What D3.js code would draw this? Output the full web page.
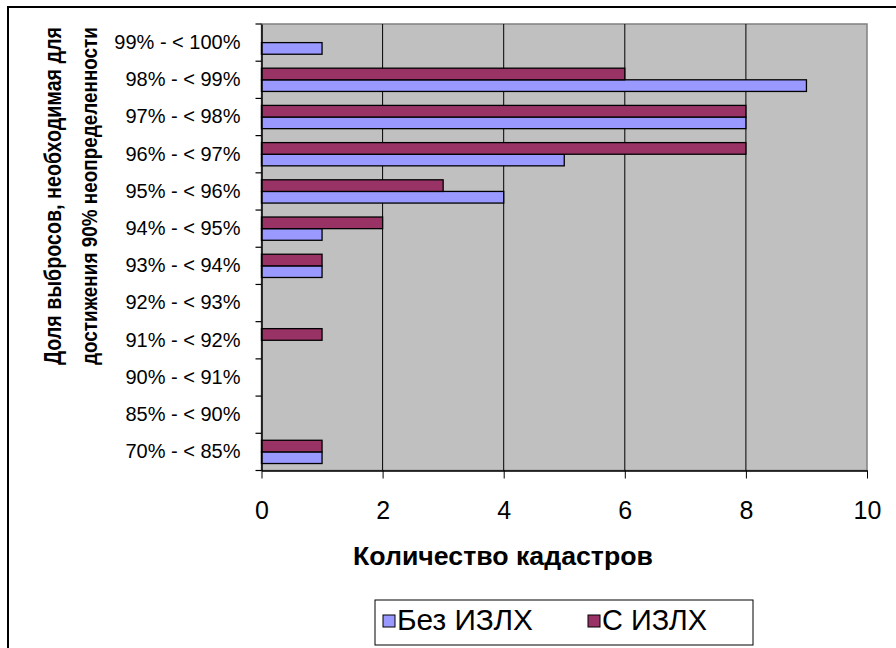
<!DOCTYPE html>
<html>
<head>
<meta charset="utf-8">
<script src="https://cdn.jsdelivr.net/npm/d3@7"></script>
<style>
  html, body { margin: 0; padding: 0; background: #fff; }
  svg { display: block; font-family: Arial, "Liberation Sans", sans-serif; }
</style>
</head>
<body>
<svg id="chart" width="896" height="648"></svg>
<script>
// Categories, top to bottom
const categories = [
  "99% - < 100%", "98% - < 99%", "97% - < 98%", "96% - < 97%",
  "95% - < 96%", "94% - < 95%", "93% - < 94%", "92% - < 93%",
  "91% - < 92%", "90% - < 91%", "85% - < 90%", "70% - < 85%"
];
const seriesNames = ["Без ИЗЛХ", "С ИЗЛХ"];
const withoutValues = [1, 9, 8, 5, 4, 1, 1, 0, 0, 0, 0, 1];
const withValues    = [0, 6, 8, 8, 3, 2, 1, 0, 1, 0, 0, 1];
const xTicks = [0, 2, 4, 6, 8, 10];
const colors = { "Без ИЗЛХ": "#9999FF", "С ИЗЛХ": "#993366" };

const svg = d3.select("#chart");

// Scale a text element's font so its rendered length equals `target` px
function fitFont(sel, target) {
  const size = +sel.attr("font-size");
  const len = sel.node().getComputedTextLength();
  if (len > 0) sel.attr("font-size", size * target / len);
}

// Outer chart frame
svg.append("rect")
  .attr("x", 8).attr("y", 7).attr("width", 900).attr("height", 660)
  .attr("fill", "#fff").attr("stroke", "#000").attr("stroke-width", 2);

const plot = { left: 261.5, right: 867, top: 24, bottom: 470.5 };

const x = d3.scaleLinear().domain([0, 10]).range([plot.left, plot.right]);
const y = d3.scaleBand().domain(categories).range([plot.top, plot.bottom]);
// C ИЗЛХ sits above Без ИЗЛХ inside each category
const ySeries = d3.scaleBand().domain(["С ИЗЛХ", "Без ИЗЛХ"])
  .range([0, y.bandwidth()]).paddingInner(0).paddingOuter(0.6);

// Plot area background
svg.append("rect")
  .attr("x", plot.left).attr("y", plot.top)
  .attr("width", plot.right - plot.left).attr("height", plot.bottom - plot.top)
  .attr("fill", "#C0C0C0").attr("stroke", "#808080").attr("stroke-width", 1.5);

// Vertical gridlines
svg.append("g").selectAll("line")
  .data(xTicks.filter(v => v > 0 && v < 10))
  .join("line")
  .attr("x1", d => x(d)).attr("x2", d => x(d))
  .attr("y1", plot.top).attr("y2", plot.bottom)
  .attr("stroke", "#000").attr("stroke-width", 1);

// Bars
const rows = [];
categories.forEach((c, i) => {
  rows.push({ cat: c, series: "Без ИЗЛХ", value: withoutValues[i] });
  rows.push({ cat: c, series: "С ИЗЛХ", value: withValues[i] });
});
svg.append("g").selectAll("rect")
  .data(rows.filter(d => d.value > 0))
  .join("rect")
  .attr("x", x(0))
  .attr("y", d => y(d.cat) + ySeries(d.series))
  .attr("width", d => x(d.value) - x(0))
  .attr("height", ySeries.bandwidth())
  .attr("fill", d => colors[d.series])
  .attr("stroke", "#000").attr("stroke-width", 1.3);

// X axis
const xAxis = svg.append("g")
  .attr("transform", `translate(0,${plot.bottom})`)
  .call(d3.axisBottom(x).tickValues(xTicks).tickSize(8).tickPadding(23).tickSizeOuter(0));
xAxis.select(".domain").attr("stroke", "#000").attr("stroke-width", 1.5);
xAxis.selectAll(".tick line").attr("stroke", "#000");
xAxis.selectAll(".tick text").attr("font-size", 25).attr("fill", "#000")
  .attr("font-family", "Arial, 'Liberation Sans', sans-serif");

// Y axis: labels at category centres, ticks at category boundaries
const yAxis = svg.append("g")
  .attr("transform", `translate(${plot.left},0)`)
  .call(d3.axisLeft(y).tickSize(0).tickPadding(21).tickSizeOuter(0));
yAxis.select(".domain").attr("stroke", "#000").attr("stroke-width", 1.5);
yAxis.selectAll(".tick text").attr("font-size", 20).attr("fill", "#000")
  .attr("font-family", "Arial, 'Liberation Sans', sans-serif");
const boundaries = categories.map(c => y(c)).concat([y.range()[1]]);
svg.append("g").selectAll("line")
  .data(boundaries)
  .join("line")
  .attr("x1", plot.left - 6).attr("x2", plot.left)
  .attr("y1", d => d).attr("y2", d => d)
  .attr("stroke", "#000").attr("stroke-width", 1.2);

// Axis titles
const xTitle = svg.append("text")
  .attr("x", 503).attr("y", 565)
  .attr("text-anchor", "middle")
  .attr("font-size", 26).attr("font-weight", "bold")
  .text("Количество кадастров");
fitFont(xTitle, 300);

// Rotated title: glyphs drawn wider across the line than along it
const yTitleLines = ["Доля выбросов, необходимая для", "достижения 90% неопределенности"];
const yTitleBase = [61, 97];
yTitleLines.forEach((t, i) => {
  const line = svg.append("text")
    .attr("transform", `translate(${yTitleBase[i]},196) scale(1.2,1) rotate(-90)`)
    .attr("text-anchor", "middle")
    .attr("font-size", 20).attr("font-weight", "bold")
    .text(t);
  fitFont(line, 338);
});

// Legend
const legend = svg.append("g");
legend.append("rect")
  .attr("x", 375).attr("y", 600).attr("width", 378).attr("height", 45)
  .attr("fill", "#fff").attr("stroke", "#000").attr("stroke-width", 1);
const legendX = [383, 588];
const legendTextWidth = [136, 105];
seriesNames.forEach((s, i) => {
  legend.append("rect")
    .attr("x", legendX[i]).attr("y", 615).attr("width", 12).attr("height", 12)
    .attr("fill", colors[s]).attr("stroke", "#000").attr("stroke-width", 1);
  const t = legend.append("text")
    .attr("x", legendX[i] + 14).attr("y", 630)
    .attr("font-size", 28)
    .text(s);
  fitFont(t, legendTextWidth[i]);
});
</script>
</body>
</html>
